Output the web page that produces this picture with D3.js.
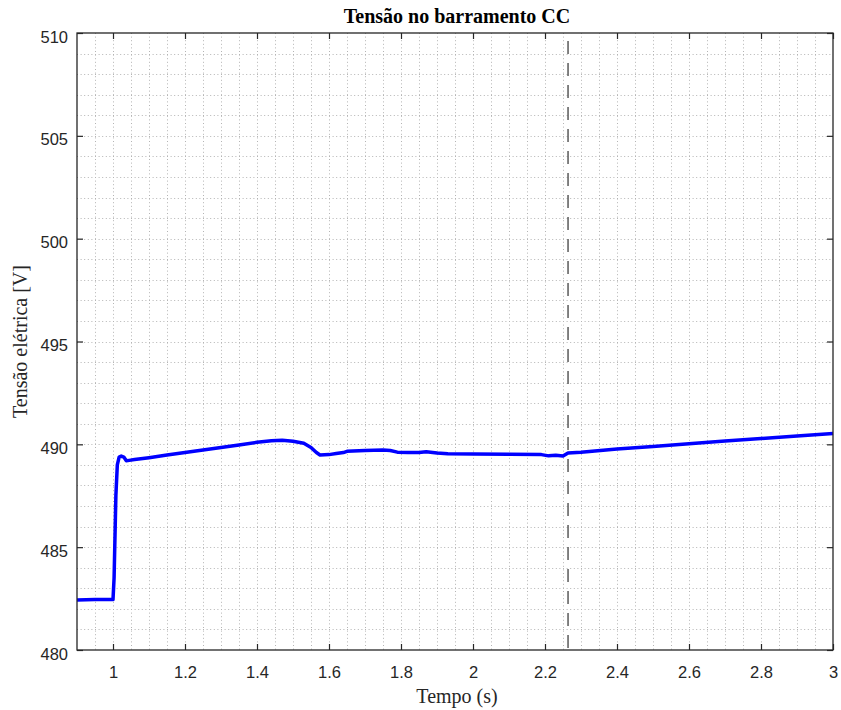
<!DOCTYPE html>
<html>
<head>
<meta charset="utf-8">
<script src="https://cdn.jsdelivr.net/npm/d3@7"></script>
<style>
  body { margin: 0; background: #fff; }
  svg { display: block; }
</style>
</head>
<body>
<svg id="chart" width="841" height="710"></svg>
<script>
// DC bus voltage over time
const time = [0.9, 0.95, 1.0, 1.003, 1.008, 1.012, 1.017, 1.023, 1.03, 1.037, 1.045, 1.06,
  1.1, 1.15, 1.2, 1.25, 1.3, 1.35, 1.4, 1.44, 1.47, 1.5, 1.53, 1.55, 1.565, 1.575,
  1.6, 1.62, 1.64, 1.65, 1.7, 1.75, 1.77, 1.79, 1.82, 1.85, 1.87, 1.9, 1.93,
  2.0, 2.1, 2.19, 2.21, 2.23, 2.25, 2.264, 2.3, 2.4, 2.5, 2.6, 2.7, 2.8, 2.9, 3.0];
const voltage = [482.43, 482.45, 482.45, 483.5, 487.5, 489.0, 489.38, 489.43, 489.38, 489.2, 489.22, 489.26,
  489.35, 489.48, 489.6, 489.72, 489.85, 489.97, 490.1, 490.17, 490.2, 490.15, 490.05, 489.85, 489.6, 489.48,
  489.5, 489.55, 489.6, 489.66, 489.7, 489.72, 489.7, 489.62, 489.6, 489.6, 489.64, 489.58, 489.54,
  489.53, 489.52, 489.5, 489.44, 489.47, 489.43, 489.58, 489.62, 489.77, 489.9, 490.03, 490.16, 490.28, 490.41, 490.53];
const markerTime = 2.264;

const xTicks = [1, 1.2, 1.4, 1.6, 1.8, 2, 2.2, 2.4, 2.6, 2.8, 3];
const yTicks = [480, 485, 490, 495, 500, 505, 510];
const xDomain = [0.9, 3];
const yDomain = [480, 510];

const titleText = "Tensão no barramento CC";
const xLabelText = "Tempo (s)";
const yLabelText = "Tensão elétrica [V]";

const svg = d3.select("#chart");
const m = { left: 77, right: 833, top: 33, bottom: 650 };

const x = d3.scaleLinear().domain(xDomain).range([m.left, m.right]);
const y = d3.scaleLinear().domain(yDomain).range([m.bottom, m.top]);

const axisColor = "#262626";
const gridColor = "#b4b4b4";

// dotted grid every 0.05 s and every 1 V
const gx = d3.range(0, 43).map(i => +(0.9 + i * 0.05).toFixed(2)).filter(v => v > 0.9 && v < 3);
const gy = d3.range(481, 510);

const grid = svg.append("g");
grid.selectAll("line.gx").data(gx).join("line")
  .attr("x1", d => Math.round(x(d)) + 0.5).attr("x2", d => Math.round(x(d)) + 0.5)
  .attr("y1", m.top).attr("y2", m.bottom)
  .attr("stroke", gridColor).attr("stroke-width", 1).attr("stroke-dasharray", "1 2.6");
grid.selectAll("line.gy").data(gy).join("line")
  .attr("y1", d => Math.round(y(d)) + 0.5).attr("y2", d => Math.round(y(d)) + 0.5)
  .attr("x1", m.left).attr("x2", m.right)
  .attr("stroke", gridColor).attr("stroke-width", 1).attr("stroke-dasharray", "1 2.6");

// vertical dashed marker
svg.append("line")
  .attr("x1", x(markerTime)).attr("x2", x(markerTime))
  .attr("y1", m.top + 8).attr("y2", m.bottom)
  .attr("stroke", "#5a5a5a").attr("stroke-width", 1.5)
  .attr("stroke-dasharray", "13 9");

// voltage trace
const line = d3.line().x((d, i) => x(time[i])).y(d => y(d));
svg.append("path")
  .datum(voltage)
  .attr("d", line)
  .attr("fill", "none")
  .attr("stroke", "#0000ff")
  .attr("stroke-width", 3.5)
  .attr("stroke-linejoin", "round");

// axes with inward ticks on all four sides
const tickLen = 6;
const fmtX = d => d3.format("~g")(d);
const axBottom = svg.append("g").attr("transform", `translate(0,${m.bottom})`)
  .call(d3.axisBottom(x).tickValues(xTicks).tickSizeInner(-tickLen).tickSizeOuter(0).tickPadding(16).tickFormat(fmtX));
const axTop = svg.append("g").attr("transform", `translate(0,${m.top})`)
  .call(d3.axisTop(x).tickValues(xTicks).tickSizeInner(-tickLen).tickSizeOuter(0).tickFormat(""));
const axLeft = svg.append("g").attr("transform", `translate(${m.left},0)`)
  .call(d3.axisLeft(y).tickValues(yTicks).tickSizeInner(-tickLen).tickSizeOuter(0).tickPadding(9));
const axRight = svg.append("g").attr("transform", `translate(${m.right},0)`)
  .call(d3.axisRight(y).tickValues(yTicks).tickSizeInner(-tickLen).tickSizeOuter(0).tickFormat(""));

[axBottom, axTop, axLeft, axRight].forEach(g => {
  g.select(".domain").remove();
  g.selectAll(".tick line").attr("stroke", axisColor).attr("stroke-width", 1.2);
  g.selectAll(".tick text")
    .attr("fill", axisColor)
    .style("font-family", "'Liberation Sans', Arial, sans-serif")
    .style("font-size", "16.5px");
});
axLeft.selectAll(".tick text").attr("dy", "0.55em");

// frame
svg.append("rect")
  .attr("x", m.left).attr("y", m.top)
  .attr("width", m.right - m.left).attr("height", m.bottom - m.top)
  .attr("fill", "none").attr("stroke", axisColor).attr("stroke-width", 1.3);

// texts
svg.append("text")
  .attr("x", 457).attr("y", 23)
  .attr("text-anchor", "middle")
  .style("font-family", "'Liberation Serif', 'Times New Roman', serif")
  .style("font-weight", "bold").style("font-size", "20px")
  .attr("fill", "#000")
  .text(titleText);

svg.append("text")
  .attr("x", 457).attr("y", 703)
  .attr("text-anchor", "middle")
  .style("font-family", "'Liberation Serif', 'Times New Roman', serif")
  .style("font-size", "20px")
  .attr("fill", axisColor)
  .text(xLabelText);

svg.append("text")
  .attr("transform", `translate(27,${(m.top + m.bottom) / 2}) rotate(-90)`)
  .attr("text-anchor", "middle")
  .style("font-family", "'Liberation Serif', 'Times New Roman', serif")
  .style("font-size", "20px")
  .attr("fill", axisColor)
  .text(yLabelText);
</script>
</body>
</html>
